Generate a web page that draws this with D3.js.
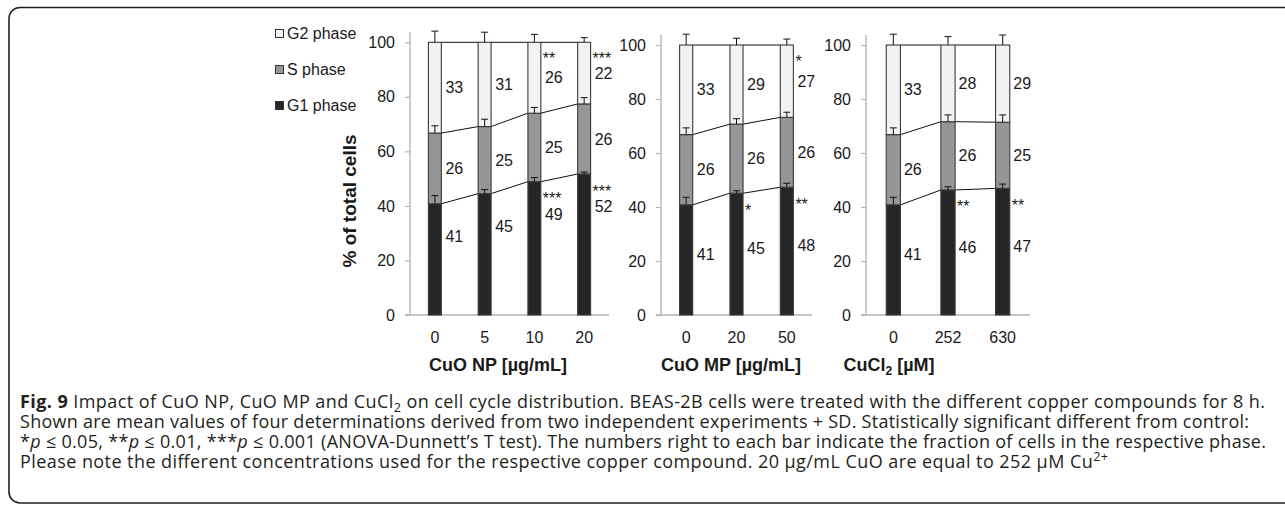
<!DOCTYPE html>
<html>
<head>
<meta charset="utf-8">
<script src="https://d3js.org/d3.v7.min.js"></script>
<style>
  body { margin: 0; background: #fff; }
  svg { display: block; }
</style>
</head>
<body>
<div id="chart"></div>
<script>
// ---- data ----
var legendPhases = ["G2 phase", "S phase", "G1 phase"];

// CuO NP
var npDoses = ["0", "5", "10", "20"];
var npG1 = [40.8, 44.5, 48.9, 51.7];
var npS = [25.9, 24.6, 25.1, 25.7];
var npG1Sd = [3.0, 1.5, 1.5, 0.7];
var npSSd = [2.7, 2.7, 2.1, 2.3];
var npG2Sd = [4.1, 3.7, 2.9, 1.7];
var npG1Lbl = [41, 45, 49, 52];
var npSLbl = [26, 25, 25, 26];
var npG2Lbl = [33, 31, 26, 22];
var npG1Star = ["", "", "***", "***"];
var npG2Star = ["", "", "**", "***"];

// CuO MP
var mpDoses = ["0", "20", "50"];
var mpG1 = [40.8, 45.1, 47.3];
var mpS = [26.0, 25.6, 25.9];
var mpG1Sd = [2.8, 0.9, 1.5];
var mpSSd = [2.5, 2.0, 1.9];
var mpG2Sd = [4.0, 2.5, 2.2];
var mpG1Lbl = [41, 45, 48];
var mpSLbl = [26, 26, 26];
var mpG2Lbl = [33, 29, 27];
var mpG1Star = ["", "*", "**"];
var mpG2Star = ["", "", "*"];

// CuCl2
var clDoses = ["0", "252", "630"];
var clG1 = [40.8, 46.3, 46.9];
var clS = [26.0, 25.3, 24.5];
var clG1Sd = [2.8, 1.2, 1.6];
var clSSd = [2.5, 2.5, 2.7];
var clG2Sd = [4.0, 3.1, 3.7];
var clG1Lbl = [41, 46, 47];
var clSLbl = [26, 26, 25];
var clG2Lbl = [33, 28, 29];
var clG1Star = ["", "**", "**"];
var clG2Star = ["", "", ""];

var yTicks = [0, 20, 40, 60, 80, 100];

// ---- layout ----
var W = 1285, H = 505;
var base = 315;
var font = "'Liberation Sans', Arial, sans-serif";
var ink = "#1a1a1a";
var fills = {"G2 phase": "#f2f2f2", "S phase": "#969696", "G1 phase": "#262626"};

var panels = [
  {doses: npDoses, g1: npG1, s: npS, g1Sd: npG1Sd, sSd: npSSd, g2Sd: npG2Sd,
   g1Lbl: npG1Lbl, sLbl: npSLbl, g2Lbl: npG2Lbl, g1Star: npG1Star, g2Star: npG2Star,
   left: 410, right: 609, top: 42.3, titleX: 498, title: [["CuO NP [µg/mL]"]], g1LblFromTop: true},
  {doses: mpDoses, g1: mpG1, s: mpS, g1Sd: mpG1Sd, sSd: mpSSd, g2Sd: mpG2Sd,
   g1Lbl: mpG1Lbl, sLbl: mpSLbl, g2Lbl: mpG2Lbl, g1Star: mpG1Star, g2Star: mpG2Star,
   left: 661, right: 812, top: 45, titleX: 731, title: [["CuO MP [µg/mL]"]], g1LblFromTop: false},
  {doses: clDoses, g1: clG1, s: clS, g1Sd: clG1Sd, sSd: clSSd, g2Sd: clG2Sd,
   g1Lbl: clG1Lbl, sLbl: clSLbl, g2Lbl: clG2Lbl, g1Star: clG1Star, g2Star: clG2Star,
   left: 866, right: 1030, top: 45, titleX: 889, title: [["CuCl"], ["2", "sub"], [" [µM]"]], g1LblFromTop: false}
];

var svg = d3.select("#chart")
  .append("svg")
  .attr("width", W)
  .attr("height", H);

// frame round the figure
svg.append("path")
  .attr("d", "M1290,7.5 H20 A11,11 0 0 0 9,18.5 V492 A11,11 0 0 0 20,503 H1290")
  .attr("fill", "none")
  .attr("stroke", "#231f20")
  .attr("stroke-width", 1.6);

// legend
var legend = svg.append("g").attr("font-family", font).attr("font-size", 16).attr("fill", ink);
legendPhases.forEach(function(ph, i) {
  var cy = 33.5 + i * 36;
  legend.append("rect")
    .attr("x", 275.5).attr("y", cy - 4).attr("width", 8).attr("height", 8)
    .attr("fill", fills[ph]).attr("stroke", "#333").attr("stroke-width", 1);
  legend.append("text")
    .attr("x", 287).attr("y", cy).attr("dy", "0.35em")
    .text(ph);
});

// y axis title
svg.append("text")
  .attr("transform", "translate(356,201) rotate(-90)")
  .attr("text-anchor", "middle")
  .attr("font-family", font)
  .attr("font-weight", "bold")
  .attr("font-size", 19)
  .attr("fill", ink)
  .text("% of total cells");

panels.forEach(function(p) {
  var g = svg.append("g").attr("font-family", font).attr("fill", ink);

  var y = d3.scaleLinear().domain([0, 100]).range([base, p.top]);
  var x = d3.scaleBand().domain(p.doses).range([p.left, p.right])
    .paddingInner(0.74).paddingOuter(0.37);
  var bw = x.bandwidth();

  // stacked rows
  var rows = p.doses.map(function(d, i) {
    var sTop = p.g1[i] + p.s[i];
    return {
      dose: d,
      segs: [
        {ph: "G1 phase", y0: 0, y1: p.g1[i], sd: p.g1Sd[i], lbl: p.g1Lbl[i], star: p.g1Star[i]},
        {ph: "S phase", y0: p.g1[i], y1: sTop, sd: p.sSd[i], lbl: p.sLbl[i], star: ""},
        {ph: "G2 phase", y0: sTop, y1: 100, sd: p.g2Sd[i], lbl: p.g2Lbl[i], star: p.g2Star[i]}
      ]
    };
  });

  // axes
  var yAxis = g.append("g")
    .attr("transform", "translate(" + p.left + ",0)")
    .call(d3.axisLeft(y).tickValues(yTicks).tickSize(5).tickSizeOuter(0).tickPadding(10));
  yAxis.select(".domain").remove();
  yAxis.selectAll(".tick line").attr("stroke", "#b5b5b5").attr("stroke-width", 1.2);
  yAxis.selectAll("text").attr("font-size", 16).attr("font-family", font).attr("fill", ink);

  g.append("line")
    .attr("x1", p.left).attr("x2", p.left)
    .attr("y1", base).attr("y2", p.top - 10)
    .attr("stroke", "#b5b5b5").attr("stroke-width", 1.4);

  var xAxis = g.append("g")
    .attr("transform", "translate(0," + base + ")")
    .call(d3.axisBottom(x).tickSize(0).tickPadding(17));
  xAxis.select(".domain").remove();
  xAxis.selectAll("text").attr("font-size", 16).attr("font-family", font).attr("fill", ink);

  g.append("line")
    .attr("x1", p.left - 5).attr("x2", p.right)
    .attr("y1", base).attr("y2", base)
    .attr("stroke", "#b5b5b5").attr("stroke-width", 1.4);

  // series lines between neighbouring bars
  for (var i = 0; i < rows.length - 1; i++) {
    [0, 1, 2].forEach(function(k) {
      g.append("line")
        .attr("x1", x(rows[i].dose) + bw).attr("y1", y(rows[i].segs[k].y1))
        .attr("x2", x(rows[i + 1].dose)).attr("y2", y(rows[i + 1].segs[k].y1))
        .attr("stroke", "#111").attr("stroke-width", 1);
    });
  }

  // bars
  rows.forEach(function(r) {
    var bx = x(r.dose);
    g.selectAll(null)
      .data(r.segs)
      .enter()
      .append("rect")
      .attr("x", bx)
      .attr("y", function(s) { return y(s.y1); })
      .attr("width", bw)
      .attr("height", function(s) { return y(s.y0) - y(s.y1); })
      .attr("fill", function(s) { return fills[s.ph]; })
      .attr("stroke", "#3a3a3a")
      .attr("stroke-width", 1.1);

    // error bars (+SD)
    r.segs.forEach(function(s) {
      var cx = bx + bw / 2;
      g.append("line")
        .attr("x1", cx).attr("x2", cx)
        .attr("y1", y(s.y1)).attr("y2", y(s.y1 + s.sd))
        .attr("stroke", "#111").attr("stroke-width", 1);
      g.append("line")
        .attr("x1", cx - 3.5).attr("x2", cx + 3.5)
        .attr("y1", y(s.y1 + s.sd)).attr("y2", y(s.y1 + s.sd))
        .attr("stroke", "#111").attr("stroke-width", 1);
    });

    // value labels right of the bar
    r.segs.forEach(function(s) {
      var v;
      if (s.ph === "G1 phase") {
        v = p.g1LblFromTop ? s.y1 - 12 : (s.y0 + s.y1) / 2 + 2;
      } else {
        v = (s.y0 + s.y1) / 2;
      }
      g.append("text")
        .attr("x", bx + bw / 2 + 19.5)
        .attr("y", y(v))
        .attr("dy", "0.35em")
        .attr("text-anchor", "middle")
        .attr("font-size", 16)
        .text(s.lbl);

      if (s.star) {
        var sv = s.ph === "G2 phase" ? 95.3 : s.y1 - 5;
        g.append("text")
          .attr("x", bx + bw + 2)
          .attr("y", y(sv) + 9)
          .attr("font-size", 16)
          .text(s.star);
      }
    });
  });

  // x title
  var t = g.append("text")
    .attr("x", p.titleX)
    .attr("y", 365)
    .attr("dy", "0.35em")
    .attr("text-anchor", "middle")
    .attr("font-weight", "bold")
    .attr("font-size", 18);
  p.title.forEach(function(part, j) {
    var ts = t.append("tspan").text(part[0]);
    if (part[1] === "sub") ts.attr("dy", 4).attr("font-size", 12);
    else if (j > 0 && p.title[j - 1][1] === "sub") ts.attr("dy", -4);
  });
});

// caption
var capLines = [
  {w: 1245, parts: [["Fig. 9", "b"], [" Impact of CuO NP, CuO MP and CuCl"], ["2", "sub"], [" on cell cycle distribution. BEAS-2B cells were treated with the different copper compounds for 8 h."]]},
  {w: 1229, parts: [["Shown are mean values of four determinations derived from two independent experiments + SD. Statistically significant different from control:"]]},
  {w: 1246, parts: [["*"], ["p", "i"], [" ≤ 0.05, **"], ["p", "i"], [" ≤ 0.01, ***"], ["p", "i"], [" ≤ 0.001 (ANOVA-Dunnett’s T test). The numbers right to each bar indicate the fraction of cells in the respective phase."]]},
  {w: 1088, parts: [["Please note the different concentrations used for the respective copper compound. 20 µg/mL CuO are equal to 252 µM Cu"], ["2+", "sup"]]}
];

var cap = svg.append("g")
  .attr("font-family", "'Open Sans', 'Noto Sans', sans-serif")
  .attr("font-size", 16)
  .attr("fill", "#231f20");

var capTexts = capLines.map(function(line, i) {
  var t = cap.append("text")
    .attr("x", 20)
    .attr("y", 408 + i * 20);
  var shift = 0;
  line.parts.forEach(function(part) {
    var ts = t.append("tspan").text(part[0]);
    var want = 0;
    if (part[1] === "b") ts.attr("font-weight", "bold");
    if (part[1] === "i") ts.attr("font-style", "italic");
    if (part[1] === "sub") { ts.attr("font-size", "0.7em"); want = 4; }
    if (part[1] === "sup") { ts.attr("font-size", "0.7em"); want = -7; }
    if (want !== shift) { ts.attr("dy", want - shift); shift = want; }
  });
  return t;
});

// size the caption font so the last (unjustified) line has its natural width
var natural = capTexts[3].node().getComputedTextLength();
var capSize = Math.min(18, 16 * capLines[3].w / natural);
cap.attr("font-size", capSize);
capTexts.forEach(function(t, i) {
  t.attr("textLength", capLines[i].w).attr("lengthAdjust", "spacing");
});
</script>
</body>
</html>
